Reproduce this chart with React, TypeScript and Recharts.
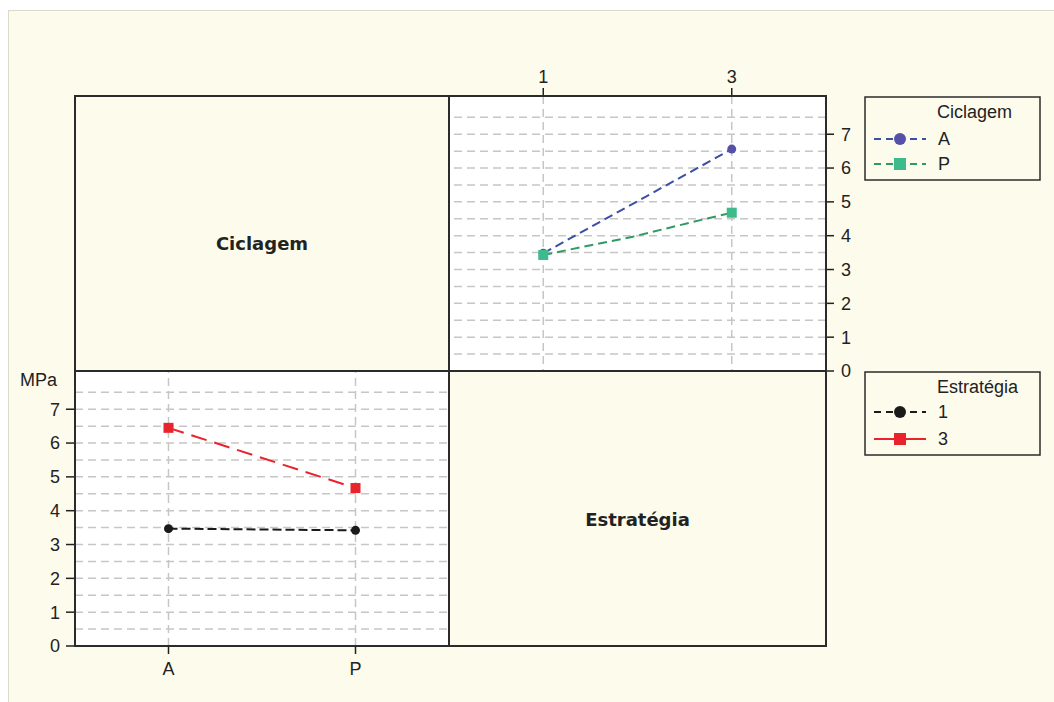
import React from 'react';
import { LineChart, Line, XAxis, YAxis, ReferenceLine } from 'recharts';

// Estratégia levels (top x axis) and Ciclagem levels (bottom x axis)
const estrategiaLevels = [1, 3];
const ciclagemLevels = ['A', 'P'];
const yTicks = [0, 1, 2, 3, 4, 5, 6, 7];
const gridValues = [0.5, 1, 1.5, 2, 2.5, 3, 3.5, 4, 4.5, 5, 5.5, 6, 6.5, 7, 7.5];

// top-right panel: MPa by Estratégia, one line per Ciclagem
const ciclagemAX = [1, 3];
const ciclagemAY = [3.48, 6.56];
const ciclagemPX = [1, 1.95, 2.71, 3];
const ciclagemPY = [3.43, 3.97, 4.49, 4.68];

// bottom-left panel: MPa by Ciclagem, one line per Estratégia
const estrategia1 = [3.47, 3.42];
const estrategia3 = [6.45, 4.67];

const CREAM = '#fdfbec';
const FRAME = '#2b2b2b';
const GRID = '#c6c6c6';
const TEXT = '#222';
const TICK_FONT = '"Liberation Sans", Arial, sans-serif';
const LABEL_FONT = '"DejaVu Sans", Verdana, sans-serif';

const blue = { line: '#3a4fa6', mark: '#5551a8' };
const green = { line: '#2f9a62', mark: '#3dbb8c' };
const black = { line: '#1a1a1a', mark: '#1a1a1a' };
const red = { line: '#e8232c', mark: '#e8232c' };

const toRows = (xs: number[], ys: number[]) =>
  xs.map((x, i) => ({ x, v: ys[i], marker: estrategiaLevels.includes(x) }));

const rowsA = toRows(ciclagemAX, ciclagemAY);
const rowsP = toRows(ciclagemPX, ciclagemPY);
const rowsE1 = ciclagemLevels.map((c, i) => ({ x: i + 1, cat: c, v: estrategia1[i], marker: true }));
const rowsE3 = ciclagemLevels.map((c, i) => ({ x: i + 1, cat: c, v: estrategia3[i], marker: true }));

const circleDot = (color: string, r: number) => (p: any) => {
  if (!p.payload?.marker) return <g key={`c-${p.index}`} />;
  return <circle key={`c-${p.index}`} cx={p.cx} cy={p.cy} r={r} fill={color} />;
};

const squareDot = (color: string, s: number) => (p: any) => {
  if (!p.payload?.marker) return <g key={`s-${p.index}`} />;
  return <rect key={`s-${p.index}`} x={p.cx - s / 2} y={p.cy - s / 2} width={s} height={s} fill={color} />;
};

const tickStyle = { fill: TEXT, fontSize: 18, fontFamily: TICK_FONT };

const gridLines = (keyBase: string) =>
  gridValues.map((g) => (
    <ReferenceLine key={`${keyBase}-${g}`} y={g} stroke={GRID} strokeWidth={1.5} strokeDasharray="8 5" />
  ));

const LegendRow = ({ top, color, dash, shape, label }: any) => (
  <div style={{ position: 'absolute', left: 872, top: top - 10, width: 160, height: 20 }}>
    <svg width={60} height={20} style={{ position: 'absolute', left: 0, top: 0 }}>
      <line x1={2} y1={10} x2={54} y2={10} stroke={color.line} strokeWidth={2} strokeDasharray={dash} />
      {shape === 'circle' ? (
        <circle cx={28} cy={10} r={6} fill={color.mark} />
      ) : (
        <rect x={22} y={4} width={12} height={12} fill={color.mark} />
      )}
    </svg>
    <span style={{ position: 'absolute', left: 66, top: 0, fontFamily: TICK_FONT, fontSize: 18, lineHeight: '20px', color: TEXT }}>
      {label}
    </span>
  </div>
);

export default function App() {
  return (
    <div style={{ position: 'absolute', left: 0, top: 0, width: 1054, height: 702, background: '#fff', overflow: 'hidden' }}>
      <div
        style={{
          position: 'absolute', left: 8, top: 10, width: 1060, height: 700,
          background: CREAM, borderLeft: '1px solid #dcdacb', borderTop: '1px solid #dcdacb',
        }}
      />
      {/* data panels are white */}
      <div style={{ position: 'absolute', left: 449, top: 96, width: 377, height: 275, background: '#fff' }} />
      <div style={{ position: 'absolute', left: 75, top: 371, width: 374, height: 275, background: '#fff' }} />

      {/* top-right: Estratégia on x, Ciclagem lines */}
      <div style={{ position: 'absolute', left: 420, top: 50 }}>
        <LineChart width={470} height={340} margin={{ top: 16, right: 14, bottom: 19, left: 29 }}>
          <XAxis
            xAxisId={0}
            type="number"
            dataKey="x"
            orientation="top"
            domain={[0, 4]}
            ticks={estrategiaLevels}
            height={30}
            axisLine={false}
            tickLine={{ stroke: TEXT, strokeWidth: 1.5 }}
            tickSize={8}
            tickMargin={5}
            tick={tickStyle}
            allowDataOverflow
          />
          <YAxis
            yAxisId={0}
            type="number"
            orientation="right"
            domain={[0, 8.13]}
            ticks={yTicks}
            width={50}
            axisLine={false}
            tickLine={{ stroke: TEXT, strokeWidth: 1.5 }}
            tickSize={8}
            tickMargin={7}
            tick={tickStyle}
            allowDataOverflow
          />
          {gridLines('tr')}
          {estrategiaLevels.map((l) => (
            <ReferenceLine key={`trx-${l}`} x={l} stroke={GRID} strokeWidth={1.5} strokeDasharray="8 5" />
          ))}
          <Line data={rowsA} dataKey="v" stroke={blue.line} strokeWidth={2} strokeDasharray="9 5"
            dot={circleDot(blue.mark, 4.5)} activeDot={false} isAnimationActive={false} />
          <Line data={rowsP} dataKey="v" stroke={green.line} strokeWidth={2} strokeDasharray="9 5"
            dot={squareDot(green.mark, 10)} activeDot={false} isAnimationActive={false} />
        </LineChart>
      </div>

      {/* bottom-left: Ciclagem on x, Estratégia lines */}
      <div style={{ position: 'absolute', left: 0, top: 360 }}>
        <LineChart width={470} height={330} margin={{ top: 11, right: 21, bottom: 14, left: 25 }}>
          <XAxis
            type="number"
            dataKey="x"
            domain={[0.5, 2.5]}
            ticks={[1, 2]}
            tickFormatter={(i: number) => ciclagemLevels[i - 1]}
            height={30}
            axisLine={false}
            tickLine={{ stroke: TEXT, strokeWidth: 1.5 }}
            tickSize={8}
            tickMargin={8}
            tick={tickStyle}
            allowDataOverflow
          />
          <YAxis
            type="number"
            domain={[0, 8.13]}
            ticks={yTicks}
            width={50}
            axisLine={false}
            tickLine={{ stroke: TEXT, strokeWidth: 1.5 }}
            tickSize={9}
            tickMargin={6}
            tick={tickStyle}
            allowDataOverflow
          />
          {gridLines('bl')}
          {[1, 2].map((l) => (
            <ReferenceLine key={`blx-${l}`} x={l} stroke={GRID} strokeWidth={1.5} strokeDasharray="8 5" />
          ))}
          <Line data={rowsE1} dataKey="v" stroke={black.line} strokeWidth={2} strokeDasharray="9 4"
            dot={circleDot(black.mark, 4.5)} activeDot={false} isAnimationActive={false} />
          <Line data={rowsE3} dataKey="v" stroke={red.line} strokeWidth={2} strokeDasharray="16 8"
            dot={squareDot(red.mark, 10)} activeDot={false} isAnimationActive={false} />
        </LineChart>
      </div>

      {/* matrix frame */}
      <svg width={1054} height={702} style={{ position: 'absolute', left: 0, top: 0, pointerEvents: 'none' }}>
        <rect x={75} y={96} width={751} height={550} fill="none" stroke={FRAME} strokeWidth={2} />
        <line x1={449} y1={96} x2={449} y2={646} stroke={FRAME} strokeWidth={2} />
        <line x1={75} y1={371} x2={826} y2={371} stroke={FRAME} strokeWidth={2} />
        <rect x={865} y={97} width={175} height={83} fill="none" stroke={FRAME} strokeWidth={1.5} />
        <rect x={865} y={372} width={175} height={83} fill="none" stroke={FRAME} strokeWidth={1.5} />
      </svg>

      {/* panel labels */}
      <div style={{ position: 'absolute', left: 75, top: 232, width: 374, textAlign: 'center', fontFamily: LABEL_FONT, fontWeight: 'bold', fontSize: 18, lineHeight: '24px', color: TEXT }}>
        Ciclagem
      </div>
      <div style={{ position: 'absolute', left: 449, top: 508, width: 377, textAlign: 'center', fontFamily: LABEL_FONT, fontWeight: 'bold', fontSize: 18, lineHeight: '24px', color: TEXT }}>
        Estratégia
      </div>
      <div style={{ position: 'absolute', left: 20, top: 370, fontFamily: TICK_FONT, fontSize: 18, lineHeight: '20px', color: TEXT }}>
        MPa
      </div>

      {/* legends */}
      <div style={{ position: 'absolute', left: 937, top: 102, fontFamily: TICK_FONT, fontSize: 18, lineHeight: '20px', color: TEXT }}>
        Ciclagem
      </div>
      <LegendRow top={139} color={blue} dash="7 5" shape="circle" label="A" />
      <LegendRow top={164} color={green} dash="7 5" shape="square" label="P" />
      <div style={{ position: 'absolute', left: 937, top: 377, fontFamily: TICK_FONT, fontSize: 18, lineHeight: '20px', color: TEXT }}>
        Estratégia
      </div>
      <LegendRow top={412} color={black} dash="7 5" shape="circle" label="1" />
      <LegendRow top={439} color={red} dash="" shape="square" label="3" />
    </div>
  );
}
